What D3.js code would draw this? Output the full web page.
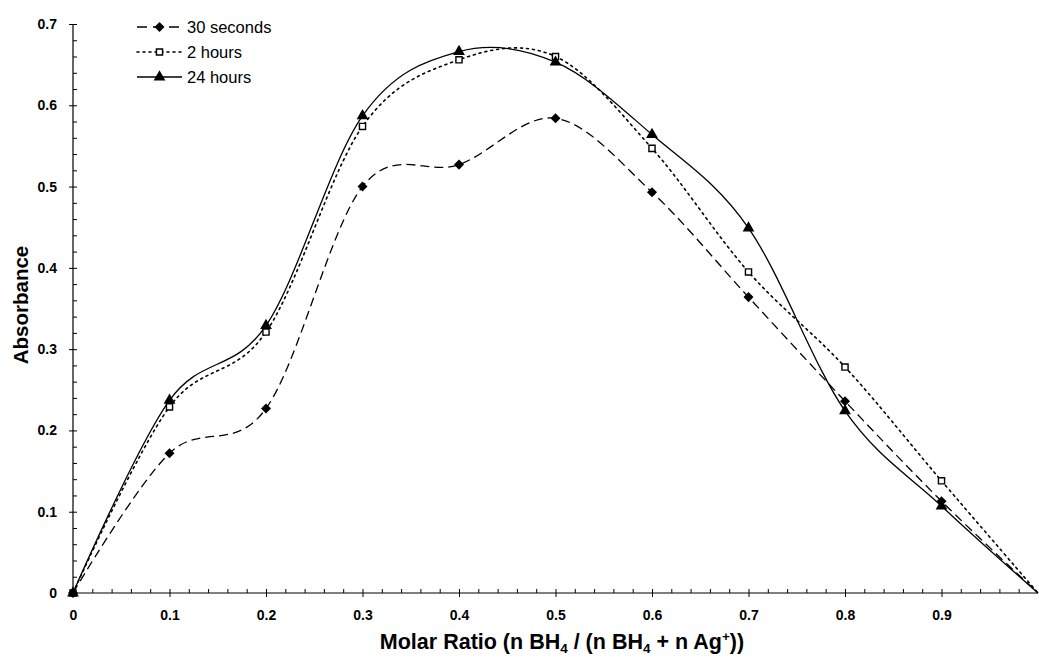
<!DOCTYPE html>
<html>
<head>
<meta charset="utf-8">
<script src="https://cdn.jsdelivr.net/npm/d3@7/dist/d3.min.js"></script>
<style>
  html, body { margin: 0; padding: 0; background: #fff; }
  svg { display: block; font-family: "Liberation Sans", Arial, Helvetica, sans-serif; }
</style>
</head>
<body>
<svg id="chart" width="1039" height="657"></svg>
<script>
// Molar ratio of borohydride in the mixture
const molarRatio = [0, 0.1, 0.2, 0.3, 0.4, 0.5, 0.6, 0.7, 0.8, 0.9, 1.0];

// Absorbance after each reaction time
const abs30s = [0, 0.172, 0.227, 0.500, 0.527, 0.584, 0.493, 0.364, 0.236, 0.113, 0];
const abs2h  = [0, 0.229, 0.321, 0.574, 0.656, 0.660, 0.547, 0.395, 0.278, 0.138, 0];
const abs24h = [0, 0.237, 0.329, 0.587, 0.666, 0.653, 0.564, 0.449, 0.224, 0.107, 0];

const seriesNames = ["30 seconds", "2 hours", "24 hours"];

const xTicks = [0, 0.1, 0.2, 0.3, 0.4, 0.5, 0.6, 0.7, 0.8, 0.9];
const yTicks = [0, 0.1, 0.2, 0.3, 0.4, 0.5, 0.6, 0.7];

const series = [
  { name: seriesNames[0], values: abs30s, dash: "9,5",  marker: "diamond" },
  { name: seriesNames[1], values: abs2h,  dash: "2,4",  marker: "square" },
  { name: seriesNames[2], values: abs24h, dash: null,   marker: "triangle" }
];

const svg = d3.select("#chart");
const plotLeft = 73, plotRight = 1038, plotTop = 24, plotBottom = 593;

const x = d3.scaleLinear().domain([0, 1]).range([plotLeft, plotRight]);
const y = d3.scaleLinear().domain([0, 0.7]).range([plotBottom, plotTop]);

const fmt = d => d === 0 ? "0" : d3.format(".1f")(d);

// minor ticks every 0.02, pointing into the plot
const isMajor = v => Math.abs(Math.round(v * 10) - v * 10) < 1e-6;
const xMinor = d3.range(0, 1.0001, 0.02).filter(v => !isMajor(v));
const yMinor = d3.range(0, 0.7001, 0.02).filter(v => !isMajor(v));

svg.append("g")
  .attr("transform", `translate(0,${plotBottom})`)
  .call(d3.axisBottom(x).tickValues(xMinor).tickSize(-4).tickFormat(""))
  .call(g => g.select(".domain").remove())
  .selectAll("line").attr("stroke", "#000");

svg.append("g")
  .attr("transform", `translate(${plotLeft},0)`)
  .call(d3.axisLeft(y).tickValues(yMinor).tickSize(-4).tickFormat(""))
  .call(g => g.select(".domain").remove())
  .selectAll("line").attr("stroke", "#000");

// major ticks cross the axis line
const xAxis = svg.append("g")
  .attr("transform", `translate(0,${plotBottom})`)
  .call(d3.axisBottom(x).tickValues(xTicks).tickSize(4).tickSizeOuter(0).tickPadding(13).tickFormat(fmt));
xAxis.select(".domain").attr("d", `M${plotLeft},0H${plotRight}`).attr("stroke", "#000").attr("stroke-width", 1.2);
xAxis.selectAll(".tick line").attr("y1", -4).attr("y2", 4).attr("stroke", "#000");
xAxis.selectAll(".tick text")
  .attr("font-size", 14).attr("font-weight", "bold").attr("fill", "#000")
  .attr("font-family", "'Liberation Sans', Arial, sans-serif");

const yAxis = svg.append("g")
  .attr("transform", `translate(${plotLeft},0)`)
  .call(d3.axisLeft(y).tickValues(yTicks).tickSize(4).tickSizeOuter(0).tickPadding(12).tickFormat(fmt));
yAxis.select(".domain").attr("d", `M0,${plotBottom}V${plotTop}`).attr("stroke", "#000").attr("stroke-width", 1.2);
yAxis.selectAll(".tick line").attr("x1", -4).attr("x2", 4).attr("stroke", "#000");
yAxis.selectAll(".tick text")
  .attr("font-size", 14).attr("font-weight", "bold").attr("fill", "#000")
  .attr("font-family", "'Liberation Sans', Arial, sans-serif");

// axis titles
svg.append("text")
  .attr("transform", `translate(28,305) rotate(-90)`)
  .attr("text-anchor", "middle")
  .attr("font-size", 20.5).attr("font-weight", "bold")
  .text("Absorbance");

const xt = svg.append("text")
  .attr("x", 562)
  .attr("y", 649)
  .attr("text-anchor", "middle")
  .attr("font-size", 21.5).attr("font-weight", "bold");
xt.append("tspan").text("Molar Ratio (n BH");
xt.append("tspan").attr("font-size", 13.5).attr("dy", 4).text("4");
xt.append("tspan").attr("dy", -4).text(" / (n BH");
xt.append("tspan").attr("font-size", 13.5).attr("dy", 4).text("4");
xt.append("tspan").attr("dy", -4).text(" + n Ag");
xt.append("tspan").attr("font-size", 13.5).attr("dy", -8).text("+");
xt.append("tspan").attr("dy", 8).text("))");

// smoothed series lines
const line = d3.line()
  .x((d, i) => x(molarRatio[i]))
  .y(d => y(d))
  .curve(d3.curveCardinal.tension(0));

const symbolFor = {
  diamond: d3.symbol().type(d3.symbolDiamond2).size(64),
  square: d3.symbol().type(d3.symbolSquare2).size(48),
  triangle: d3.symbol().type(d3.symbolTriangle).size(60)
};

function drawMarker(g, kind, cx, cy) {
  const p = g.append("path")
    .attr("d", symbolFor[kind]())
    .attr("transform", `translate(${cx},${cy})`);
  if (kind === "square") {
    p.attr("fill", "#fff").attr("stroke", "#000").attr("stroke-width", 1.4);
  } else {
    p.attr("fill", "#000").attr("stroke", "none");
  }
}

series.forEach(s => {
  svg.append("path")
    .datum(s.values)
    .attr("fill", "none")
    .attr("stroke", "#000")
    .attr("stroke-width", s.dash === "2,4" ? 1.6 : 1.3)
    .attr("stroke-dasharray", s.dash)
    .attr("stroke-linecap", s.dash === "2,4" ? "round" : "butt")
    .attr("d", line);
});

series.forEach(s => {
  const g = svg.append("g");
  s.values.forEach((v, i) => {
    if (molarRatio[i] < 1) drawMarker(g, s.marker, x(molarRatio[i]), y(v));
  });
});

// legend
const legend = svg.append("g");
series.forEach((s, i) => {
  const ly = 27 + i * 25;
  legend.append("line")
    .attr("x1", 137).attr("x2", 182).attr("y1", ly).attr("y2", ly)
    .attr("stroke", "#000")
    .attr("stroke-width", s.dash === "2,4" ? 1.6 : 1.3)
    .attr("stroke-dasharray", s.dash === "9,5" ? "10,6" : s.dash)
    .attr("stroke-linecap", s.dash === "2,4" ? "round" : "butt");
  drawMarker(legend, s.marker, 159.5, ly);
  legend.append("text")
    .attr("x", 187).attr("y", ly + 6)
    .attr("font-size", 16.5)
    .text(s.name);
});
</script>
</body>
</html>
